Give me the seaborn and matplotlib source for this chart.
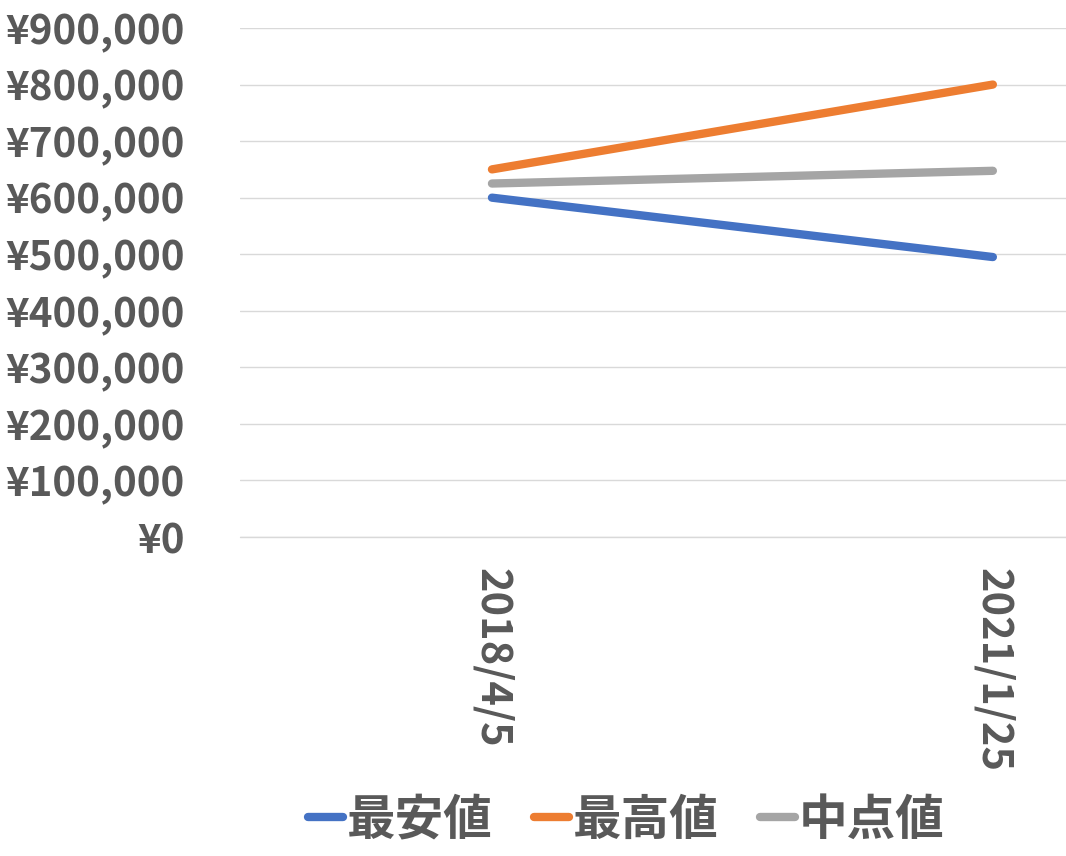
import pandas as pd
import matplotlib.pyplot as plt
import matplotlib.ticker as mticker
import seaborn as sns

# datos
fechas = ["2018/4/5", "2021/1/25"]
series = ["最安値", "最高値", "中点値"]
min_vals = [600000, 495000]
max_vals = [650000, 800000]
mid_vals = [625000, 647500]
colores = ["#4472C4", "#ED7D31", "#A5A5A5"]

df = pd.DataFrame({
    "fecha": fechas * 3,
    "serie": [series[0]] * 2 + [series[1]] * 2 + [series[2]] * 2,
    "valor": min_vals + max_vals + mid_vals,
})

sns.set_theme(style="white")
plt.rcParams["font.family"] = ["Noto Sans CJK JP", "DejaVu Sans"]
plt.rcParams["font.weight"] = "bold"

fig = plt.figure(figsize=(10.66, 8.56), dpi=100)
ax = fig.add_axes([240 / 1066, 1 - 537 / 856, 1 - 240 / 1066, (537 - 28) / 856])

sns.lineplot(data=df, x="fecha", y="valor", hue="serie", hue_order=series,
             palette=colores, linewidth=6, ax=ax, sort=False)
for ln in ax.lines:
    ln.set_solid_capstyle("round")

ax.set_ylim(0, 900000)
ax.set_xlim(-0.503, 1.146)
ax.yaxis.set_major_locator(mticker.MultipleLocator(100000))
ax.yaxis.set_major_formatter(mticker.FuncFormatter(lambda v, p: f"¥{int(v):,}"))
ax.grid(axis="y", color="#D9D9D9", linewidth=1)
ax.axhline(0, color="#D9D9D9", linewidth=1, clip_on=False, zorder=0)
ax.set_axisbelow(True)
for s in ax.spines.values():
    s.set_visible(False)
ax.set_xlabel("")
ax.set_ylabel("")
ax.tick_params(axis="y", labelsize=29, labelcolor="#595959", length=0, pad=40)
ax.tick_params(axis="x", labelsize=30, labelcolor="#595959", length=0, pad=22)
for t in ax.get_yticklabels():
    t.set_fontweight("bold")
for t in ax.get_xticklabels():
    t.set_rotation(-90)
    t.set_fontweight("bold")
    t.set_va("top")
    t.set_ha("center")

ax.legend_.remove()
handles, labels = ax.get_legend_handles_labels()
leg = fig.legend(handles, labels, loc="center", bbox_to_anchor=(626 / 1066, 1 - 820 / 856),
                 ncol=3, frameon=False, fontsize=35, handlelength=0.72,
                 handletextpad=0.08, columnspacing=0.85)
for t in leg.get_texts():
    t.set_color("#595959")
    t.set_fontweight("bold")
for h in leg.get_lines():
    h.set_linewidth(6)
    h.set_solid_capstyle("round")

fig.savefig("out.png", dpi=100)
